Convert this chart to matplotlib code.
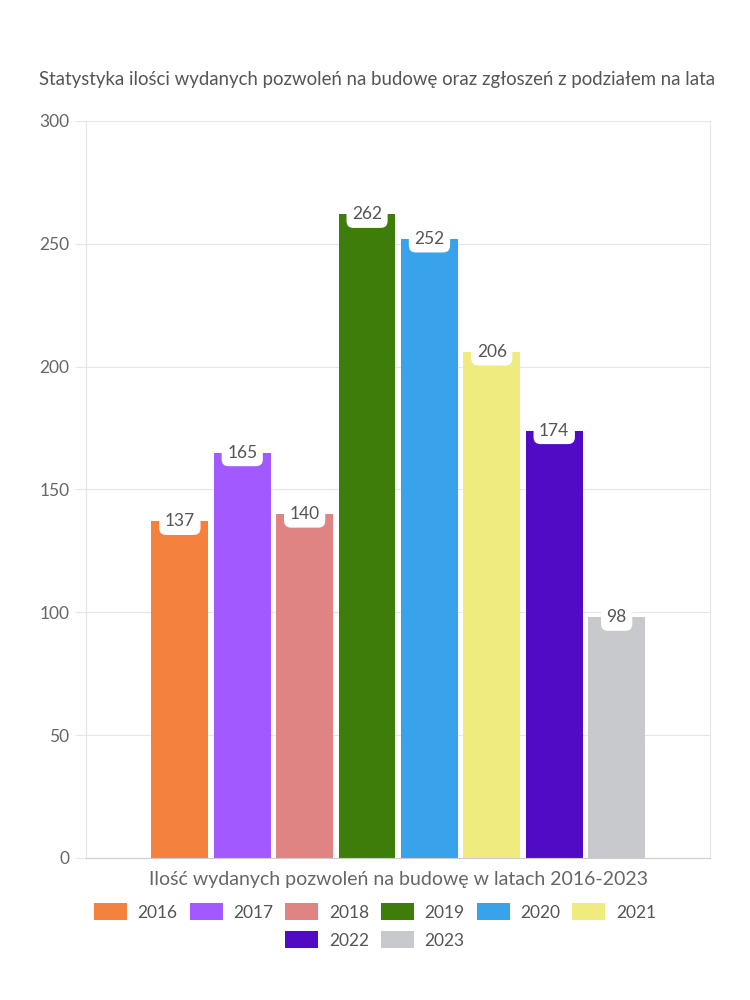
import numpy as np
import matplotlib.pyplot as plt
from matplotlib.patches import Patch

plt.rcParams['font.family'] = ['Lato', 'DejaVu Sans']

years = ['2016', '2017', '2018', '2019', '2020', '2021', '2022', '2023']
values = [137, 165, 140, 262, 252, 206, 174, 98]
colors = ['#f5813f', '#a259ff', '#e08383', '#3f7d0b',
          '#38a3ea', '#f0eb7e', '#520bc4', '#c8c9cd']

title = 'Statystyka ilości wydanych pozwoleń na budowę oraz zgłoszeń z podziałem na lata'
xlabel = 'Ilość wydanych pozwoleń na budowę w latach 2016-2023'

fig = plt.figure(figsize=(7.5, 10), dpi=100)
ax = fig.add_axes([0.115, 0.142, 0.832, 0.737])

x = np.arange(len(years))
bars = ax.bar(x, values, width=0.91, color=colors, zorder=2)

# value labels in white rounded boxes at bar tops
for xi, v in zip(x, values):
    ax.annotate(str(v), (xi, v), xytext=(0, 0), textcoords='offset points',
                ha='center', va='center', fontsize=12.5, color='#555555', zorder=3,
                bbox=dict(boxstyle='round,pad=0.32,rounding_size=0.4',
                          fc='white', ec='none'))

ax.set_xlim(-1.5, 8.5)
ax.set_ylim(0, 300)
ax.set_yticks(np.arange(0, 301, 50))
ax.set_xticks([])
ax.grid(axis='y', color='#e6e6e6', linewidth=0.8, zorder=0)
for s in ['left', 'right', 'top']:
    ax.spines[s].set_color('#e6e6e6')
ax.spines['top'].set_visible(False)
ax.spines['bottom'].set_color('#cccccc')
ax.tick_params(axis='y', colors='#666666', labelsize=12.5, length=8,
               width=0.8, pad=4)
ax.tick_params(axis='y', color='#e6e6e6')
ax.set_xlabel(xlabel, fontsize=14, color='#666666', labelpad=9)

fig.text(0.052, 0.92, title, fontsize=13.4, color='#555555', ha='left', va='center')

handles = [Patch(facecolor=c, label=y) for c, y in zip(colors, years)]
leg_kw = dict(loc='center', frameon=False, fontsize=12.5, labelcolor='#555555',
              handlelength=1.9, handleheight=1.1, handletextpad=0.6,
              columnspacing=0.7)
fig.legend(handles=handles[:6], bbox_to_anchor=(0.5, 0.088), ncol=6, **leg_kw)
fig.legend(handles=handles[6:], bbox_to_anchor=(0.5, 0.06), ncol=2, **leg_kw)

fig.savefig('out.png', dpi=100)
